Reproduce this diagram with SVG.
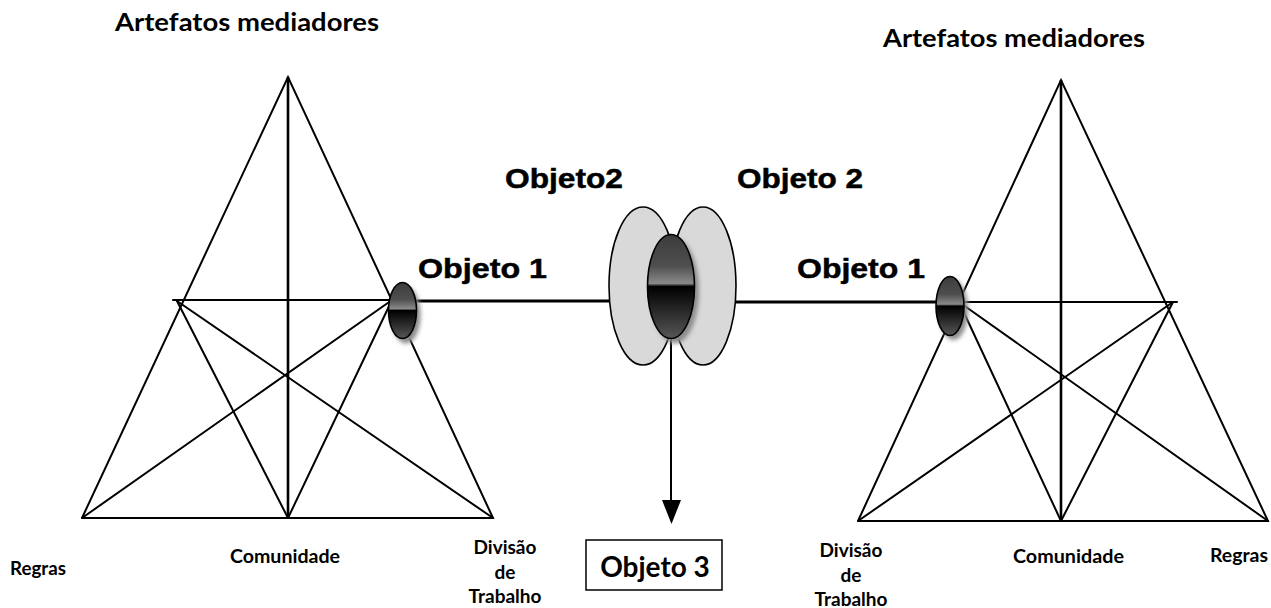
<svg xmlns="http://www.w3.org/2000/svg" width="1271" height="608" viewBox="0 0 1271 608">
<style>
.ln{stroke:#000;stroke-width:2;fill:none;stroke-linecap:round}
.vt{stroke:#000;stroke-width:2.6;fill:none}
.thick{stroke:#000;stroke-width:3;fill:none}
.cal{font-family:Lato,"Open Sans","Liberation Sans",sans-serif;font-weight:bold;fill:#000}
.ari{font-family:"Liberation Sans",Arial,sans-serif;font-weight:bold;fill:#000;stroke:#000;stroke-width:0.5}
.lobe{fill:#d9d9d9;stroke:#000;stroke-width:1.6}
.dark{fill:url(#gDark);stroke:#000;stroke-width:1.6}
.shadow{fill:#8c8c8c;filter:url(#blur)}
</style>
<defs>
<linearGradient id="gDark" x1="0" y1="0" x2="0" y2="1">
<stop offset="0" stop-color="#3c3c3c"/>
<stop offset="0.3" stop-color="#4e4e4e"/>
<stop offset="0.47" stop-color="#8a8a8a"/>
<stop offset="0.5" stop-color="#000"/>
<stop offset="0.6" stop-color="#111"/>
<stop offset="1" stop-color="#575757"/>
</linearGradient>
<filter id="blur" x="-50%" y="-50%" width="200%" height="200%"><feGaussianBlur stdDeviation="2"/></filter>
</defs>

<g id="connectors">
<line class="thick" x1="416" y1="301" x2="609" y2="301"/>
<line class="thick" x1="736" y1="302" x2="936" y2="302"/>
<line x1="671" y1="339" x2="671" y2="500" stroke="#000" stroke-width="2"/>
<polygon points="662,500 681,500 671.5,524" fill="#000"/>
</g>

<g id="triangle-left">
<polyline class="ln" points="82,518 288,77 493,518 82,518"/>
<line class="vt" x1="288" y1="77" x2="288" y2="518"/>
<line class="ln" x1="173" y1="300" x2="392" y2="300"/>
<line class="ln" x1="177" y1="301" x2="288" y2="518"/>
<line class="ln" x1="177" y1="301" x2="493" y2="518"/>
<line class="ln" x1="392" y1="300" x2="288" y2="518"/>
<line class="ln" x1="392" y1="300" x2="82" y2="518"/>
</g>

<g id="triangle-right">
<polyline class="ln" points="858,521 1061,80 1268,521 858,521"/>
<line class="vt" x1="1061" y1="80" x2="1061" y2="521"/>
<line class="ln" x1="959" y1="302" x2="1177" y2="302"/>
<line class="ln" x1="959" y1="302" x2="1061" y2="521"/>
<line class="ln" x1="959" y1="302" x2="1268" y2="521"/>
<line class="ln" x1="1173" y1="302" x2="1061" y2="521"/>
<line class="ln" x1="1173" y1="302" x2="858" y2="521"/>
</g>

<g id="objeto1-left">
<ellipse class="shadow" cx="406" cy="315" rx="14.5" ry="28.5"/>
<ellipse class="dark" cx="402.5" cy="310.5" rx="14" ry="28"/>
</g>

<g id="objeto1-right">
<ellipse class="shadow" cx="953.5" cy="310" rx="14.5" ry="30"/>
<ellipse class="dark" cx="950" cy="306" rx="14" ry="29.5"/>
</g>

<g id="objeto2">
<ellipse class="lobe" cx="643" cy="286" rx="34" ry="79"/>
<ellipse class="lobe" cx="703" cy="286" rx="33" ry="79"/>
<ellipse class="shadow" cx="675" cy="291" rx="24" ry="52.5"/>
<ellipse class="dark" cx="671" cy="286.5" rx="23.5" ry="52"/>
</g>

<g id="objeto3">
<rect x="586" y="540" width="136" height="50" fill="#fff" stroke="#000" stroke-width="1.5"/>
<text class="cal" x="655" y="577" font-size="28" text-anchor="middle">Objeto 3</text>
</g>

<g id="labels">
<text class="cal" x="115" y="31" font-size="25" textLength="264" lengthAdjust="spacingAndGlyphs">Artefatos mediadores</text>
<text class="cal" x="883" y="47" font-size="25" textLength="262" lengthAdjust="spacingAndGlyphs">Artefatos mediadores</text>
<text class="ari" x="505" y="188" font-size="28" textLength="118" lengthAdjust="spacingAndGlyphs">Objeto2</text>
<text class="ari" x="737" y="188" font-size="28" textLength="126" lengthAdjust="spacingAndGlyphs">Objeto 2</text>
<text class="ari" x="418" y="278" font-size="28" textLength="129" lengthAdjust="spacingAndGlyphs">Objeto 1</text>
<text class="ari" x="797" y="278" font-size="28" textLength="128" lengthAdjust="spacingAndGlyphs">Objeto 1</text>

<text class="cal" x="10" y="575" font-size="19" textLength="56" lengthAdjust="spacingAndGlyphs">Regras</text>
<text class="cal" x="230" y="563" font-size="19" textLength="110" lengthAdjust="spacingAndGlyphs">Comunidade</text>
<text class="cal" x="505" y="554" font-size="19" text-anchor="middle">Divisão</text>
<text class="cal" x="505" y="579" font-size="19" text-anchor="middle">de</text>
<text class="cal" x="505" y="603" font-size="19" text-anchor="middle">Trabalho</text>

<text class="cal" x="851" y="557" font-size="19" text-anchor="middle">Divisão</text>
<text class="cal" x="851" y="582" font-size="19" text-anchor="middle">de</text>
<text class="cal" x="851" y="606" font-size="19" text-anchor="middle">Trabalho</text>
<text class="cal" x="1013" y="563" font-size="19" textLength="111" lengthAdjust="spacingAndGlyphs">Comunidade</text>
<text class="cal" x="1210" y="562" font-size="19" textLength="58" lengthAdjust="spacingAndGlyphs">Regras</text>
</g>
</svg>
